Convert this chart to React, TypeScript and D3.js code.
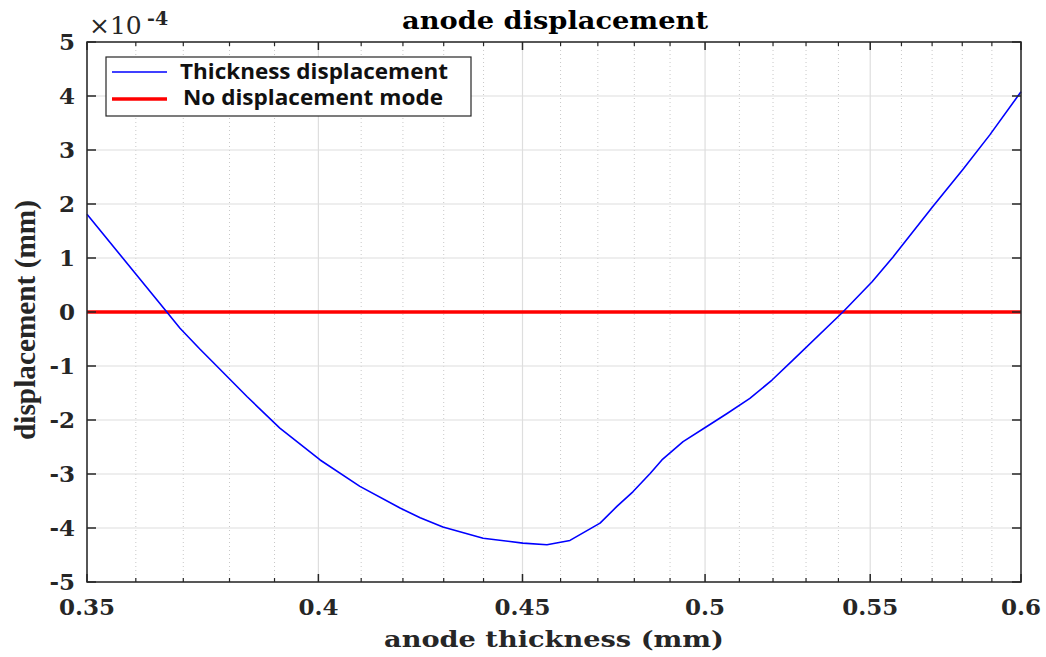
import React from "react";
import * as d3 from "d3";

const thickness = [
  0.35, 0.3665, 0.3693, 0.3736, 0.3764, 0.3839, 0.3912, 0.4004, 0.4097, 0.4193,
  0.4242, 0.4298, 0.4399, 0.4501, 0.4564, 0.4625, 0.4706, 0.4752, 0.4796, 0.4844,
  0.4877, 0.4937, 0.5005, 0.5064, 0.5131, 0.5197, 0.526, 0.5414, 0.5506, 0.5573,
  0.5703, 0.5802, 0.5893, 0.6,
];
const displacement = [
  1.81, 0.0, -0.3, -0.69, -0.93, -1.57, -2.15, -2.74, -3.23, -3.63,
  -3.81, -3.98, -4.19, -4.28, -4.31, -4.23, -3.91, -3.6, -3.33, -2.99,
  -2.74, -2.4, -2.12, -1.88, -1.6, -1.26, -0.89, 0.0, 0.56, 1.02,
  1.96, 2.64, 3.28, 4.08,
];
const noDisplacementX = [0.35, 0.6];
const noDisplacementY = [0, 0];

const xTicks = [0.35, 0.4, 0.45, 0.5, 0.55, 0.6];
const xTickLabels = ["0.35", "0.4", "0.45", "0.5", "0.55", "0.6"];
const xMinorTicks = [
  0.36, 0.37, 0.38, 0.39, 0.41, 0.42, 0.43, 0.44, 0.46, 0.47, 0.48, 0.49,
  0.51, 0.52, 0.53, 0.54, 0.56, 0.57, 0.58, 0.59,
];
const yTicks = [-5, -4, -3, -2, -1, 0, 1, 2, 3, 4, 5];

const seriesNames = ["Thickness displacement", "No displacement mode"];
const titleText = "anode displacement";
const xLabel = "anode thickness (mm)";
const yLabel = "displacement (mm)";

const W = 1046;
const H = 657;
const L = 87;
const R = 1021;
const T = 42;
const B = 582;
const axisColor = "#262626";
const serif = "'DejaVu Serif', serif";

export default function App() {
  const x = d3.scaleLog().domain([0.35, 0.6]).range([L, R]);
  const y = d3.scaleLinear().domain([-5, 5]).range([B, T]);

  const line = d3
    .line<number>()
    .x((_, i) => x(thickness[i]))
    .y((d) => y(d))
    .curve(d3.curveLinear);
  const zeroLine = d3
    .line<number>()
    .x((_, i) => x(noDisplacementX[i]))
    .y((d) => y(d));

  return (
    <svg
      width={W}
      height={H}
      style={{ position: "absolute", left: 0, top: 0, background: "#fff" }}
    >
      <rect x={0} y={0} width={W} height={H} fill="#fff" />
      {/* minor x grid */}
      {xMinorTicks.map((t) => (
        <line
          key={"mg" + t}
          x1={x(t)}
          x2={x(t)}
          y1={T}
          y2={B}
          stroke="#c8c8c8"
          strokeWidth={1}
          strokeDasharray="1,3"
        />
      ))}
      {/* major grids */}
      {xTicks.map((t) => (
        <line key={"gx" + t} x1={x(t)} x2={x(t)} y1={T} y2={B} stroke="#dedede" strokeWidth={1.2} />
      ))}
      {yTicks.map((t) => (
        <line key={"gy" + t} x1={L} x2={R} y1={y(t)} y2={y(t)} stroke="#dedede" strokeWidth={1.2} />
      ))}
      {/* data */}
      <path d={zeroLine(noDisplacementY) || ""} fill="none" stroke="#ff0000" strokeWidth={3.5} />
      <path d={line(displacement) || ""} fill="none" stroke="#0000ff" strokeWidth={1.6} strokeLinejoin="round" />
      {/* axes box */}
      <rect x={L} y={T} width={R - L} height={B - T} fill="none" stroke={axisColor} strokeWidth={1.5} />
      {/* ticks */}
      {xTicks.map((t) => (
        <g key={"tx" + t}>
          <line x1={x(t)} x2={x(t)} y1={B} y2={B - 8} stroke={axisColor} strokeWidth={1.5} />
          <line x1={x(t)} x2={x(t)} y1={T} y2={T + 8} stroke={axisColor} strokeWidth={1.5} />
        </g>
      ))}
      {xMinorTicks.map((t) => (
        <g key={"mt" + t}>
          <line x1={x(t)} x2={x(t)} y1={B} y2={B - 4} stroke={axisColor} strokeWidth={1.2} />
          <line x1={x(t)} x2={x(t)} y1={T} y2={T + 4} stroke={axisColor} strokeWidth={1.2} />
        </g>
      ))}
      {yTicks.map((t) => (
        <g key={"ty" + t}>
          <line x1={L} x2={L + 9} y1={y(t)} y2={y(t)} stroke={axisColor} strokeWidth={1.5} />
          <line x1={R} x2={R - 9} y1={y(t)} y2={y(t)} stroke={axisColor} strokeWidth={1.5} />
        </g>
      ))}
      {/* tick labels */}
      {xTicks.map((t, i) => (
        <text
          key={"xl" + t}
          x={x(t)}
          y={615}
          textAnchor="middle"
          fontFamily={serif}
          fontWeight="bold"
          fontSize={23}
          fill={axisColor}
        >
          {xTickLabels[i]}
        </text>
      ))}
      {yTicks.map((t) => (
        <text
          key={"yl" + t}
          x={75}
          y={y(t)}
          dy="0.36em"
          textAnchor="end"
          fontFamily={serif}
          fontWeight="bold"
          fontSize={23}
          fill={axisColor}
        >
          {String(t)}
        </text>
      ))}
      {/* exponent */}
      <text x={89} y={34} fontFamily={serif} fontSize={25} fill={axisColor}>
        ×10
      </text>
      <text x={147} y={25} fontFamily={serif} fontWeight="bold" fontSize={19} fill={axisColor}>
        -4
      </text>
      {/* title */}
      <text
        x={555}
        y={29}
        textAnchor="middle"
        fontFamily={serif}
        fontWeight="bold"
        fontSize={25}
        fill="#000"
        textLength={306}
        lengthAdjust="spacingAndGlyphs"
      >
        {titleText}
      </text>
      {/* axis labels */}
      <text
        x={554}
        y={647}
        textAnchor="middle"
        fontFamily={serif}
        fontWeight="bold"
        fontSize={23}
        fill={axisColor}
        textLength={340}
        lengthAdjust="spacingAndGlyphs"
      >
        {xLabel}
      </text>
      <text
        transform={`translate(35,320) rotate(-90)`}
        textAnchor="middle"
        fontFamily="'Liberation Serif', serif"
        fontWeight="bold"
        fontSize={29}
        fill={axisColor}
        textLength={240}
        lengthAdjust="spacingAndGlyphs"
      >
        {yLabel}
      </text>
      {/* legend */}
      <rect x={106} y={57} width={365} height={59} fill="#fff" stroke={axisColor} strokeWidth={1.2} />
      <line x1={112} x2={167} y1={72} y2={72} stroke="#0000ff" strokeWidth={1.6} />
      <line x1={112} x2={167} y1={99} y2={99} stroke="#ff0000" strokeWidth={3.5} />
      <text
        x={180}
        y={79}
        fontFamily="'Open Sans', sans-serif"
        fontWeight="bold"
        fontSize={21}
        fill="#111"
        textLength={268}
        lengthAdjust="spacingAndGlyphs"
      >
        {seriesNames[0]}
      </text>
      <text
        x={183}
        y={105}
        fontFamily="'Open Sans', sans-serif"
        fontWeight="bold"
        fontSize={21}
        fill="#111"
        textLength={260}
        lengthAdjust="spacingAndGlyphs"
      >
        {seriesNames[1]}
      </text>
    </svg>
  );
}
